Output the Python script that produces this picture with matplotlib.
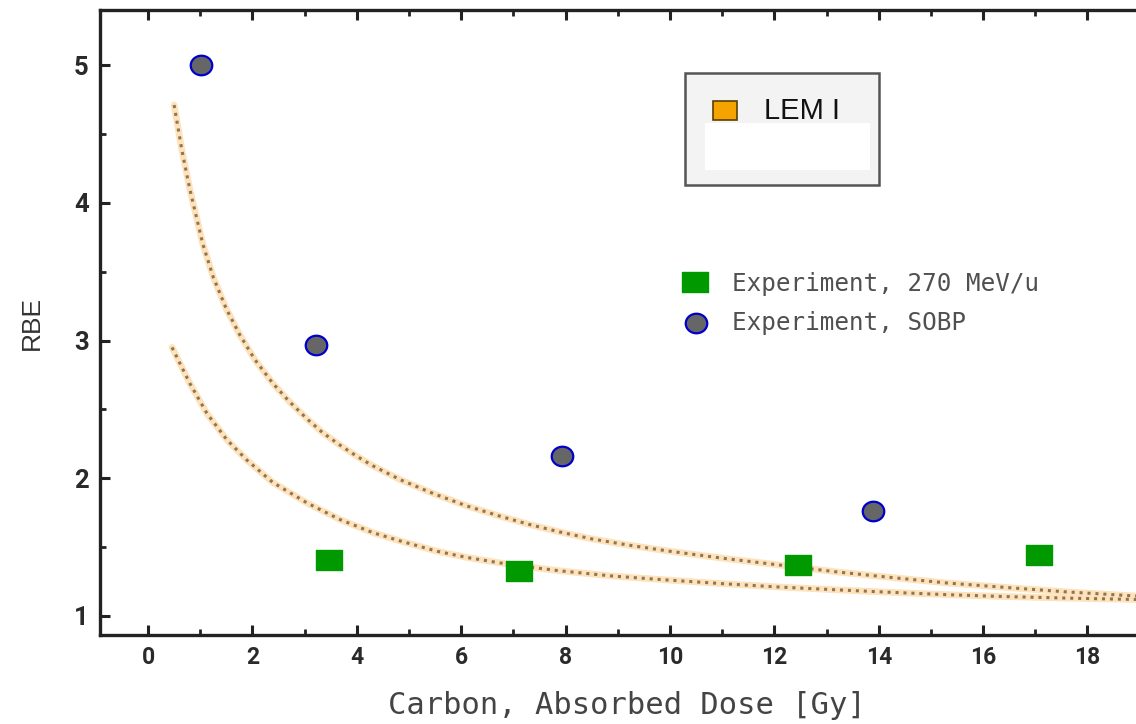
import matplotlib
matplotlib.use("Agg")
import matplotlib.pyplot as plt
from matplotlib.path import Path
from matplotlib.patches import Rectangle
from matplotlib.ticker import MultipleLocator
from matplotlib.lines import Line2D
from matplotlib.transforms import Affine2D

# ---- data -------------------------------------------------------------
# LEM I model curves (dose in Gy, RBE)
lem_upper_dose = [0.50, 0.65, 0.80, 1.05, 1.25, 1.50, 1.76, 2.05, 2.39, 2.70, 3.05,
                  3.35, 3.68, 4.00, 4.31, 4.83, 5.46, 6.10, 6.74, 7.30, 7.89, 8.50,
                  9.20, 10.00, 11.00, 12.10, 13.20, 14.23, 15.30, 16.34, 17.60, 18.93]
lem_upper_rbe = [4.71, 4.38, 4.10, 3.70, 3.46, 3.23, 3.04, 2.86, 2.69, 2.56, 2.43,
                 2.33, 2.24, 2.16, 2.09, 1.99, 1.89, 1.80, 1.725, 1.665, 1.61, 1.56,
                 1.515, 1.47, 1.42, 1.37, 1.32, 1.28, 1.24, 1.21, 1.175, 1.145]
lem_lower_dose = [0.46, 0.80, 1.13, 1.51, 1.90, 2.39, 3.05, 3.68, 4.31, 4.83, 5.54,
                  6.11, 6.75, 7.38, 7.89, 8.90, 10.00, 11.00, 12.10, 13.20, 14.23,
                  15.30, 16.34, 17.60, 18.93]
lem_lower_rbe = [2.95, 2.69, 2.47, 2.28, 2.13, 1.97, 1.82, 1.70, 1.605, 1.545, 1.47,
                 1.425, 1.385, 1.352, 1.328, 1.29, 1.26, 1.235, 1.21, 1.19, 1.172,
                 1.155, 1.142, 1.13, 1.12]

# Measurements
exp270_dose = [3.47, 7.11, 12.45, 17.07]
exp270_rbe = [1.41, 1.33, 1.37, 1.44]
sobp_dose = [1.02, 3.22, 7.93, 13.89]
sobp_rbe = [5.00, 2.97, 2.16, 1.76]

x_ticks = [0, 2, 4, 6, 8, 10, 12, 14, 16, 18]
y_ticks = [1, 2, 3, 4, 5]

legend_model = "LEM I"
legend_exp = ["Experiment, 270 MeV/u", "Experiment, SOBP"]

# ---- figure -----------------------------------------------------------
W, H = 1136, 724
fig = plt.figure(figsize=(W / 100, H / 100), dpi=100)
fig.patch.set_facecolor("white")

def fx(px):
    return px / W

def fy(py):
    return 1 - py / H

ax = fig.add_axes([fx(100), fy(635), fx(1136) - fx(100), fy(10) - fy(635)])
ax.set_xlim(-0.92, 18.93)
ax.set_ylim(0.862, 5.40)

# marker shapes: slightly wide ellipse and a wide rectangle
ellipse = Path.unit_circle().transformed(Affine2D().scale(1.1, 1.0))
wide_rect = Path([(-1.24, -1), (1.24, -1), (1.24, 1), (-1.24, 1), (-1.24, -1)],
                 [Path.MOVETO, Path.LINETO, Path.LINETO, Path.LINETO, Path.CLOSEPOLY])

# model curves: faint orange halo under a dotted brown line
for xs, ys in [(lem_upper_dose, lem_upper_rbe), (lem_lower_dose, lem_lower_rbe)]:
    ax.plot(xs, ys, color="#fde2bb", lw=4.8, solid_capstyle="round", zorder=2, clip_on=False)
    ax.plot(xs, ys, color="#8f7552", lw=2.2, linestyle=(0, (1.0, 1.6)), zorder=3, clip_on=False)

ax.plot(exp270_dose, exp270_rbe, linestyle="none", marker=wide_rect, markersize=18.5,
        markerfacecolor="#009900", markeredgecolor="#009900", zorder=5)
ax.plot(sobp_dose, sobp_rbe, linestyle="none", marker=ellipse, markersize=15.5,
        markerfacecolor="#666666", markeredgecolor="#0000cc", markeredgewidth=1.6, zorder=5)

# axes styling
for side in ["left", "bottom", "top"]:
    ax.spines[side].set_linewidth(2.4)
    ax.spines[side].set_color("#222222")
ax.spines["right"].set_visible(False)

ax.set_xticks(x_ticks)
ax.set_yticks(y_ticks)
ax.xaxis.set_minor_locator(MultipleLocator(1))
ax.yaxis.set_minor_locator(MultipleLocator(0.5))
ax.tick_params(axis="both", which="major", direction="in", length=7, width=2.2,
               color="#222222", top=True, right=False)
ax.tick_params(axis="both", which="minor", direction="in", length=4, width=2.0,
               color="#222222", top=True, right=False)
ax.tick_params(axis="x", which="major", pad=8, labelsize=16.5, labelcolor="#2a2a2a")
ax.tick_params(axis="y", which="major", pad=8, labelsize=18.5, labelcolor="#2a2a2a")
for lab in ax.get_xticklabels() + ax.get_yticklabels():
    lab.set_fontfamily("Roboto")
    lab.set_fontweight("bold")

ax.set_xlabel("Carbon, Absorbed Dose [Gy]", family="DejaVu Sans Mono", fontsize=22,
              color="#444444", va="center")
ax.xaxis.set_label_coords((627 - 100) / 1036, (635 - 705) / 625)
ax.set_ylabel("RBE", family="Liberation Sans", fontsize=19, color="#333333", va="center")
ax.yaxis.set_label_coords((32 - 100) / 1036, (635 - 323) / 625)

# model legend box
fig.patches.append(Rectangle((fx(685), fy(185)), fx(879) - fx(685), fy(73) - fy(185),
                             transform=fig.transFigure, facecolor="#f3f3f3",
                             edgecolor="#555555", lw=1.8, zorder=6))
fig.patches.append(Rectangle((fx(705), fy(170)), fx(870) - fx(705), fy(123) - fy(170),
                             transform=fig.transFigure, facecolor="white",
                             edgecolor="none", zorder=7))
fig.patches.append(Rectangle((fx(713), fy(120)), fx(737) - fx(713), fy(101) - fy(120),
                             transform=fig.transFigure, facecolor="#f5a300",
                             edgecolor="#5a4000", lw=1.2, zorder=7))
fig.text(fx(764), fy(111), legend_model, family="Liberation Sans", fontsize=21,
         color="#111111", ha="left", va="center", zorder=8)

# experiment legend entries
fig.add_artist(Line2D([fx(695)], [fy(282)], transform=fig.transFigure, linestyle="none",
                      marker=wide_rect, markersize=18.5, markerfacecolor="#009900",
                      markeredgecolor="#009900"))
fig.add_artist(Line2D([fx(696)], [fy(323)], transform=fig.transFigure, linestyle="none",
                      marker=ellipse, markersize=15.5, markerfacecolor="#666666",
                      markeredgecolor="#0000cc", markeredgewidth=1.6))
fig.text(fx(732), fy(284), legend_exp[0], family="DejaVu Sans Mono", fontsize=17.5,
         color="#505050", ha="left", va="center")
fig.text(fx(732), fy(323), legend_exp[1], family="DejaVu Sans Mono", fontsize=17.5,
         color="#505050", ha="left", va="center")

fig.savefig("out.png", dpi=100, facecolor="white")
